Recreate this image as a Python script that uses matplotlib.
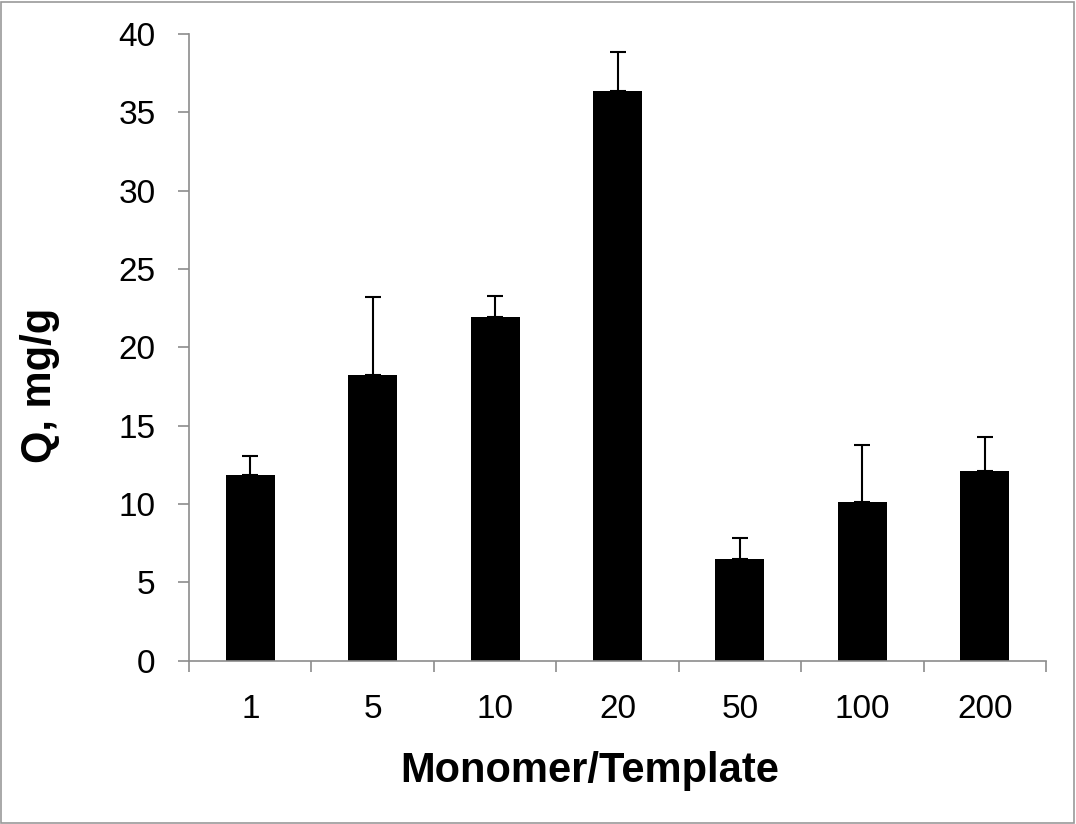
import matplotlib

matplotlib.use("Agg")
import matplotlib.pyplot as plt
import numpy as np
from matplotlib.patches import Rectangle

plt.rcParams.update({
    "font.family": ["Liberation Sans", "DejaVu Sans"],
    "xtick.labelsize": 24,
    "ytick.labelsize": 24,
})

ratios = ["1", "5", "10", "20", "50", "100", "200"]
q_values = [11.85, 18.25, 21.95, 36.35, 6.47, 10.13, 12.13]
q_errors = [1.2, 4.98, 1.3, 2.5, 1.38, 3.62, 2.17]

AXIS_GREY = "#8c8c8c"

fig = plt.figure(figsize=(10.76, 8.24), dpi=100)
ax = fig.add_axes([0.1757, 0.1982, 0.9721 - 0.1757, 0.9587 - 0.1982])

x = np.arange(len(ratios))
ax.bar(x, q_values, width=0.4, color="black", zorder=2)
ax.errorbar(x, q_values, yerr=[np.zeros(len(q_errors)), q_errors],
            fmt="none", ecolor="black", elinewidth=1.5, capsize=5.7,
            capthick=1.5, zorder=3)

ax.set_xlim(-0.5, len(ratios) - 0.5)
ax.set_ylim(0, 40)
ax.set_yticks(np.arange(0, 41, 5))

# category labels at centres, tick marks on the boundaries (Excel style)
ax.set_xticks(np.arange(-0.5, len(ratios)), minor=False)
ax.set_xticklabels([])
ax.set_xticks(x, minor=True)
ax.set_xticklabels(ratios, minor=True)
ax.tick_params(axis="x", which="minor", length=0, pad=24)
ax.tick_params(axis="x", which="major", length=8, width=1.2, color=AXIS_GREY)
ax.tick_params(axis="y", length=8, width=1.2, color=AXIS_GREY, pad=16)

for side in ("top", "right"):
    ax.spines[side].set_visible(False)
for side in ("left", "bottom"):
    ax.spines[side].set_color(AXIS_GREY)
    ax.spines[side].set_linewidth(1.2)

ax.set_xlabel("Monomer/Template", fontsize=30, fontweight="bold", va="center")
ax.set_ylabel("Q, mg/g", fontsize=30, fontweight="bold", va="center")
ax.xaxis.set_label_coords(0.468, -0.176)
ax.yaxis.set_label_coords(-0.174, 0.44)

fig.patches.append(Rectangle((0.001, 0.001), 0.997, 0.997, transform=fig.transFigure,
                             fill=False, edgecolor="#999999", linewidth=1.2))

fig.savefig("out.png", dpi=100)
